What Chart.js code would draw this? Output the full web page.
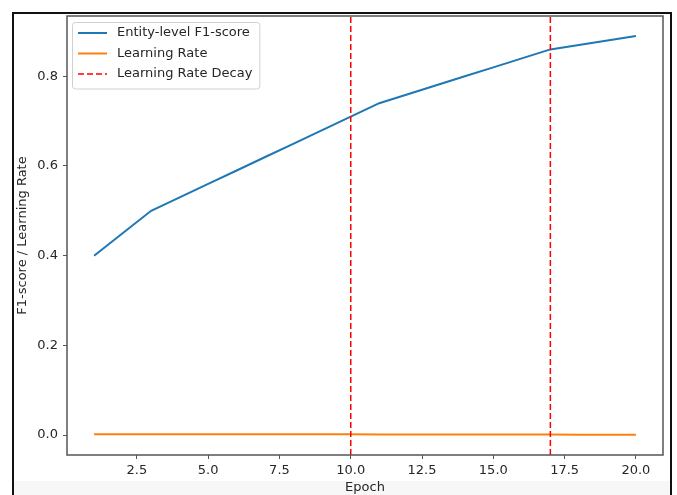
<!DOCTYPE html>
<html>
<head>
<meta charset="utf-8">
<title>Entity-level F1-score and Learning Rate</title>
<script src="https://cdn.jsdelivr.net/npm/chart.js@4.4.1/dist/chart.umd.min.js"></script>
<style>
  html, body { margin: 0; padding: 0; background: #ffffff; }
  #wrap { position: relative; width: 677px; height: 495px; overflow: hidden; background: #ffffff; }
  #band { position: absolute; left: 14px; top: 481px; width: 656px; height: 14px; background: #f7f7f7; }
  #frame { position: absolute; left: 12px; top: 12px; width: 656px; height: 520px; border: 2px solid #111111; }
  #chart { position: absolute; left: 0; top: 0; }
</style>
</head>
<body>
<div id="wrap">
  <div id="band"></div>
  <div id="frame"></div>
  <canvas id="chart" width="677" height="495"></canvas>
</div>
<script>
// Training history per epoch
const epochs = [1, 2, 3, 4, 5, 6, 7, 8, 9, 10, 11, 12, 13, 14, 15, 16, 17, 18, 19, 20];
const f1Scores = [0.40, 0.45, 0.50, 0.53, 0.56, 0.59, 0.62, 0.65, 0.68, 0.71,
                  0.74, 0.76, 0.78, 0.80, 0.82, 0.84, 0.86, 0.87, 0.88, 0.89];
const learningRates = [0.002, 0.002, 0.002, 0.002, 0.002, 0.002, 0.002, 0.002, 0.002, 0.002,
                       0.001, 0.001, 0.001, 0.001, 0.001, 0.001, 0.001, 0.0008, 0.0008, 0.0008];
const decayEpochs = [10, 17];

// Axis ticks
const xTickValues = [2.5, 5, 7.5, 10, 12.5, 15, 17.5, 20];
const yTickValues = [0.0, 0.2, 0.4, 0.6, 0.8];

const seriesNames = ['Entity-level F1-score', 'Learning Rate', 'Learning Rate Decay'];
const seriesColors = ['#1f77b4', '#ff7f0e', '#ff0000'];

const FONT = "'DejaVu Sans', sans-serif";
const FONT_SIZE = 13;
const TEXT_COLOR = '#262626';
const AXIS_COLOR = '#555555';

const toPoints = (ys) => epochs.map((e, i) => ({ x: e, y: ys[i] }));

// Vertical dashed markers where the learning rate decays
const decayLinesPlugin = {
  id: 'decayLines',
  afterDatasetsDraw(chart) {
    const { ctx, chartArea: a, scales: { x } } = chart;
    ctx.save();
    ctx.strokeStyle = seriesColors[2];
    ctx.lineWidth = 1.5;
    ctx.setLineDash([6, 3]);
    decayEpochs.forEach((e) => {
      const px = x.getPixelForValue(e);
      ctx.beginPath();
      ctx.moveTo(px, a.bottom);
      ctx.lineTo(px, a.top);
      ctx.stroke();
    });
    ctx.restore();
  }
};

// Full box around the plot area
const plotBoxPlugin = {
  id: 'plotBox',
  afterDraw(chart) {
    const { ctx, chartArea: a } = chart;
    ctx.save();
    ctx.strokeStyle = AXIS_COLOR;
    ctx.lineWidth = 1.5;
    ctx.strokeRect(a.left, a.top, a.right - a.left, a.bottom - a.top);
    ctx.restore();
  }
};

// Framed legend in the upper-left corner of the plot
const boxLegendPlugin = {
  id: 'boxLegend',
  afterDraw(chart) {
    const { ctx, chartArea: a } = chart;
    ctx.save();
    ctx.font = FONT_SIZE + 'px ' + FONT;
    const textW = Math.max(...seriesNames.map((s) => ctx.measureText(s).width));
    const left = a.left + 5, top = a.top + 6;
    const rowH = 20.5;
    const w = 44 + textW + 8, h = 10 + rowH * seriesNames.length - 5;
    ctx.fillStyle = 'rgba(255,255,255,0.85)';
    ctx.strokeStyle = '#d0d0d0';
    ctx.lineWidth = 1;
    ctx.beginPath();
    ctx.roundRect(left + 0.5, top + 0.5, w, h, 3);
    ctx.fill();
    ctx.stroke();
    seriesNames.forEach((name, i) => {
      const cy = top + 11 + i * rowH;
      ctx.strokeStyle = seriesColors[i];
      ctx.lineWidth = i === 2 ? 1.5 : 2;
      ctx.setLineDash(i === 2 ? [6, 3] : []);
      ctx.beginPath();
      ctx.moveTo(left + 6, cy);
      ctx.lineTo(left + 35, cy);
      ctx.stroke();
      ctx.setLineDash([]);
      ctx.fillStyle = TEXT_COLOR;
      ctx.textBaseline = 'middle';
      ctx.textAlign = 'left';
      ctx.fillText(name, left + 45, cy);
    });
    ctx.restore();
  }
};

new Chart(document.getElementById('chart'), {
  type: 'line',
  data: {
    datasets: [
      {
        label: seriesNames[0],
        data: toPoints(f1Scores),
        borderColor: seriesColors[0],
        backgroundColor: seriesColors[0],
        borderWidth: 2,
        pointRadius: 0,
        tension: 0
      },
      {
        label: seriesNames[1],
        data: toPoints(learningRates),
        borderColor: seriesColors[1],
        backgroundColor: seriesColors[1],
        borderWidth: 2,
        pointRadius: 0,
        tension: 0
      }
    ]
  },
  options: {
    responsive: false,
    animation: false,
    devicePixelRatio: 1,
    layout: { padding: { left: 0, right: 14, top: 16, bottom: 0 } },
    plugins: {
      legend: { display: false },
      tooltip: { enabled: false }
    },
    scales: {
      x: {
        type: 'linear',
        min: 0.05,
        max: 20.95,
        afterBuildTicks: (s) => { s.ticks = xTickValues.map((v) => ({ value: v })); },
        afterFit: (s) => { s.height = 40; },
        grid: { drawOnChartArea: false, drawTicks: true, tickLength: 4, color: AXIS_COLOR },
        border: { display: false },
        ticks: {
          color: TEXT_COLOR,
          font: { family: FONT, size: FONT_SIZE },
          padding: 4,
          maxRotation: 0,
          callback: (v) => Number(v).toFixed(1)
        },
        title: {
          display: true,
          text: 'Epoch',
          color: TEXT_COLOR,
          font: { family: FONT, size: FONT_SIZE },
          padding: { top: 0, bottom: 0 }
        }
      },
      y: {
        type: 'linear',
        min: -0.0445,
        max: 0.9345,
        afterBuildTicks: (s) => { s.ticks = yTickValues.map((v) => ({ value: v })); },
        afterFit: (s) => { s.width = 67; },
        grid: { drawOnChartArea: false, drawTicks: true, tickLength: 4, color: AXIS_COLOR },
        border: { display: false },
        ticks: {
          color: TEXT_COLOR,
          font: { family: FONT, size: FONT_SIZE },
          padding: 5,
          callback: (v) => Number(v).toFixed(1)
        },
        title: {
          display: true,
          text: 'F1-score / Learning Rate',
          color: TEXT_COLOR,
          font: { family: FONT, size: FONT_SIZE },
          padding: { top: 15, bottom: 0 }
        }
      }
    }
  },
  plugins: [decayLinesPlugin, plotBoxPlugin, boxLegendPlugin]
});
</script>
</body>
</html>
